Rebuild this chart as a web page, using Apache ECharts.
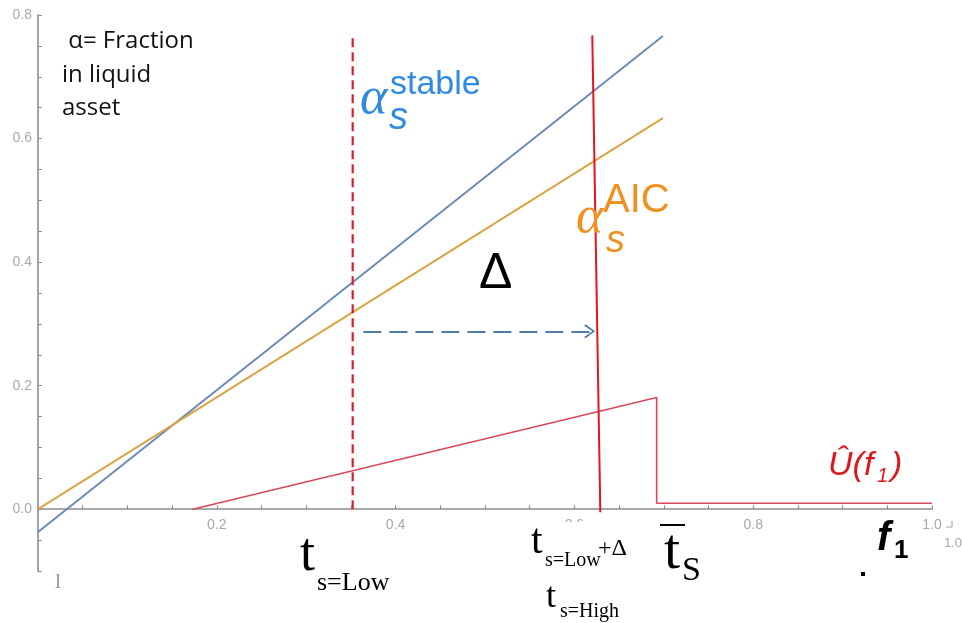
<!DOCTYPE html>
<html>
<head>
<meta charset="utf-8">
<script src="https://cdn.jsdelivr.net/npm/echarts@6/dist/echarts.min.js"></script>
<style>html,body{margin:0;padding:0;background:#fff}#c{width:962px;height:623px}</style>
</head>
<body>
<div id="c"></div>
<script>
// ---- data ----
const lineX = [0, 0.699];
const stableVals = [-0.037, 0.766];
const aicVals = [0, 0.633];
const uX = [0.173, 0.692, 0.692, 1.0];
const uY = [0, 0.181, 0.0097, 0.0097];
const tLowX = [0.352, 0.352];
const tLowY = [0, 0.765];
const tHighX = [0.629, 0.620];
const tHighY = [-0.005, 0.767];
const arrowX = [0.364, 0.617];
const arrowY = [0.288, 0.288];
const xTickLabels = [0.2, 0.4, 0.6, 0.8, 1.0];
const yTickLabels = [0.0, 0.2, 0.4, 0.6, 0.8];

const pairs = (xs, ys) => xs.map((x, i) => [x, ys[i]]);
const isLabel = (v, list) => list.some(t => Math.abs(t - v) < 1e-6);

const chart = echarts.init(document.getElementById('c'), null, {renderer: 'canvas'});

function T(text, x, baseline, size, family, color, extra) {
  const f = family || 'Liberation Sans';
  return {
    type: 'text', z: 200,
    style: {
      text: text, x: x, y: baseline - 0.35 * size,
      fill: color || '#000',
      font: (extra && extra.font ? extra.font + ' ' : '') + size + 'px "' + f + '"',
      align: 'left', verticalAlign: 'middle'
    }
  };
}

const axisGray = '#8c8c8c';
const labelGray = '#a8a8a8';

const graphics = [
  // white patch partially hiding 0.6 tick label (as in reference)
  {type: 'rect', z: 150, shape: {x: 560, y: 522, width: 34, height: 12}, style: {fill: '#fff'}},
  T(' \u03b1= Fraction', 62, 50, 24, 'Open Sans', '#111'),
  T('in liquid', 62, 84, 24, 'Open Sans', '#111'),
  T('asset', 62, 117, 24, 'Open Sans', '#111'),
  // alpha stable
  T('\u03b1', 360, 118, 52, 'Liberation Serif', '#2e8ae3', {font: 'italic'}),
  T('s', 389, 132, 38, 'Liberation Sans', '#2e8ae3', {font: 'italic'}),
  T('stable', 390, 97, 34, 'Liberation Sans', '#2e8ae3'),
  // alpha AIC
  T('\u03b1', 576, 237, 52, 'Liberation Serif', '#f0901e', {font: 'italic'}),
  T('s', 606, 255, 38, 'Liberation Sans', '#f0901e', {font: 'italic'}),
  T('AIC', 603, 215, 40, 'Liberation Sans', '#f0901e'),
  // Delta
  T('\u0394', 479, 292, 50, 'Liberation Sans', '#000'),
  // U hat
  T('\u00db(f', 828, 477, 34, 'Liberation Sans', '#e0161c', {font: 'italic'}),
  T('1', 877, 483, 20, 'Liberation Sans', '#e0161c', {font: 'italic'}),
  T(')', 891, 477, 34, 'Liberation Sans', '#e0161c', {font: 'italic'}),
  // t s=Low
  T('t', 300, 575, 54, 'Liberation Serif', '#000'),
  T('s=Low', 317, 592, 26, 'Liberation Serif', '#000'),
  // t s=Low + Delta
  T('t', 531, 557, 42, 'Liberation Serif', '#000'),
  T('s=Low', 545, 568, 20, 'Liberation Serif', '#000'),
  T('+\u0394', 598, 557, 24, 'Liberation Serif', '#000'),
  // t s=High
  T('t', 546, 610, 36, 'Liberation Serif', '#000'),
  T('s=High', 560, 619, 20, 'Liberation Serif', '#000'),
  // t bar S
  T('t', 664, 573, 58, 'Liberation Serif', '#000'),
  {type: 'line', z: 200, shape: {x1: 660, y1: 525, x2: 685, y2: 525}, style: {stroke: '#000', lineWidth: 2}},
  T('S', 682, 583, 34, 'Liberation Serif', '#000'),
  // f1
  T('f', 877, 553, 40, 'Liberation Sans', '#000', {font: 'italic bold'}),
  T('1', 894, 560, 26, 'Liberation Sans', '#000', {font: 'bold'}),
  {type: 'rect', z: 200, shape: {x: 861, y: 572, width: 4, height: 4}, style: {fill: '#000'}},
  // small artefacts
  T('1.0', 944, 548, 13, 'Liberation Sans', labelGray),
  {type: 'polyline', z: 200, shape: {points: [[946, 527], [952, 527], [952, 521]]}, style: {stroke: labelGray, lineWidth: 1.2, fill: null}},
  T('l', 55, 590, 22, 'Liberation Serif', '#9a9a9a')
];

const option = {
  animation: false,
  backgroundColor: '#fff',
  grid: {left: 38, right: 30, top: 15, bottom: 52, containLabel: false},
  xAxis: {
    type: 'value', min: 0, max: 1, interval: 0.05,
    axisLine: {onZero: true, lineStyle: {color: axisGray, width: 1.6}},
    axisTick: {inside: true, length: 4, lineStyle: {color: axisGray, width: 1}},
    splitLine: {show: false},
    axisLabel: {
      color: labelGray, fontSize: 14, fontFamily: 'Liberation Sans', margin: -53,
      showMinLabel: true, showMaxLabel: true,
      formatter: v => isLabel(v, xTickLabels) ? v.toFixed(1) : ''
    }
  },
  yAxis: {
    type: 'value', min: -0.1, max: 0.8, interval: 0.05,
    axisLine: {onZero: false, lineStyle: {color: axisGray, width: 1.6}},
    axisTick: {inside: true, length: 4, lineStyle: {color: axisGray, width: 1}},
    splitLine: {show: false},
    axisLabel: {
      color: labelGray, fontSize: 14, fontFamily: 'Liberation Sans', margin: 6,
      formatter: v => isLabel(v, yTickLabels) ? v.toFixed(1) : ''
    }
  },
  series: [
    {type: 'line', data: pairs(lineX, stableVals), showSymbol: false, lineStyle: {color: '#6b8ab6', width: 2}},
    {type: 'line', data: pairs(lineX, aicVals), showSymbol: false, lineStyle: {color: '#d9a444', width: 2}},
    {type: 'line', data: pairs(uX, uY), showSymbol: false, lineStyle: {color: '#d9485a', width: 1.6}},
    {type: 'line', data: pairs(tLowX, tLowY), showSymbol: false, lineStyle: {color: '#d8202c', width: 2.2, type: [9, 5]}},
    {type: 'line', data: pairs(tHighX, tHighY), showSymbol: false, lineStyle: {color: '#e8141c', width: 2}},
    {type: 'line', data: [], showSymbol: false,
      markLine: {
        silent: true, animation: false,
        symbol: ['none', 'path://M5,0 L10,8 L9,9.2 L5,2.2 L1,9.2 L0,8 Z'],
        symbolSize: [14, 11],
        label: {show: false},
        lineStyle: {color: '#4d7cab', width: 2.2, type: [18, 8]},
        data: [[{coord: [arrowX[0], arrowY[0]]}, {coord: [arrowX[1], arrowY[1]]}]]
      }
    }
  ],
  graphic: graphics
};
chart.setOption(option);
</script>
</body>
</html>
